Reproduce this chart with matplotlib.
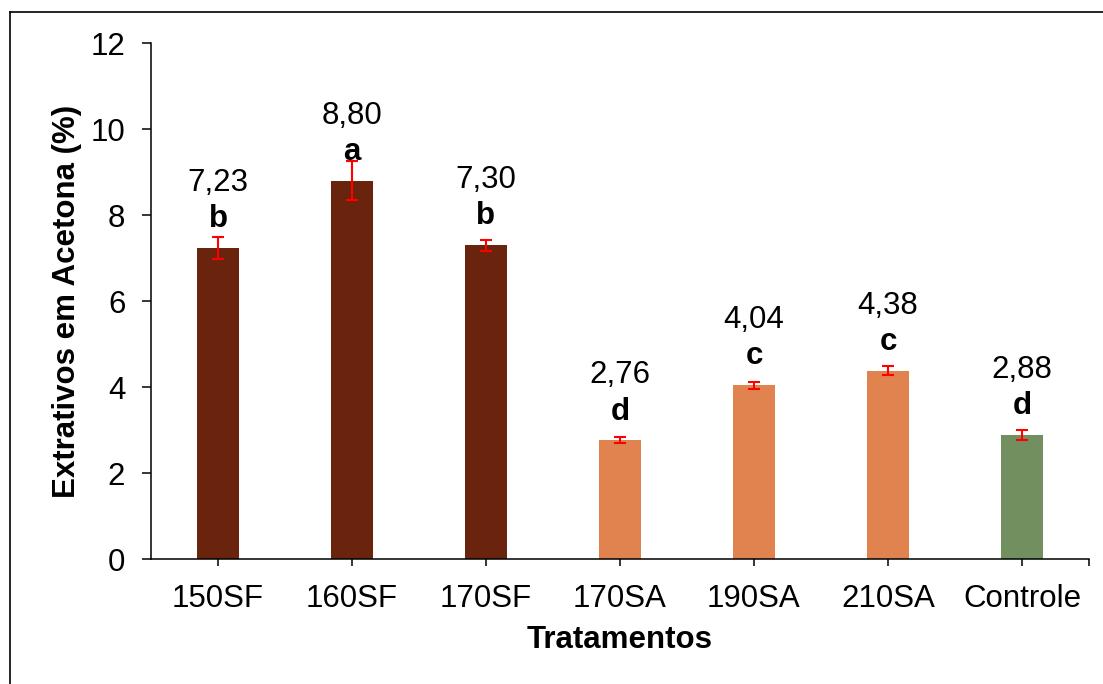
import numpy as np
import matplotlib
matplotlib.use("Agg")
import matplotlib.pyplot as plt
from matplotlib.lines import Line2D

plt.rcParams['font.family'] = ['Liberation Sans', 'DejaVu Sans']

# Data
tratamentos = ["150SF", "160SF", "170SF", "170SA", "190SA", "210SA", "Controle"]
medias = [7.23, 8.80, 7.30, 2.76, 4.04, 4.38, 2.88]
desvios = [0.26, 0.45, 0.13, 0.07, 0.08, 0.11, 0.12]
letras = ["b", "a", "b", "d", "c", "c", "d"]
cores = ["#6A230D", "#6A230D", "#6A230D", "#E0834F", "#E0834F", "#E0834F", "#728F5F"]

fs = 22.5

fig = plt.figure(figsize=(11.03, 6.84), dpi=100)
ax = fig.add_axes([0.1369, 0.1827, 0.8504, 0.7544])

x = np.arange(len(tratamentos))
ax.bar(x, medias, width=0.31, color=cores, zorder=2)
ax.errorbar(x, medias, yerr=desvios, fmt='none', ecolor='red',
            elinewidth=1.5, capsize=4.3, capthick=1.5, zorder=3)

# rotulos: valor + letra do teste
for xi, m, l in zip(x, medias, letras):
    ax.annotate(l, (xi, m), xytext=(0, 15), textcoords='offset points',
                ha='center', va='baseline', fontsize=fs, fontweight='bold')
    ax.annotate(f"{m:.2f}".replace('.', ','), (xi, m), xytext=(0, 41),
                textcoords='offset points', ha='center', va='baseline',
                fontsize=fs)

ax.set_xlim(-0.5, 6.5)
ax.set_ylim(0, 12)
ax.set_yticks(np.arange(0, 13, 2))
ax.set_xticks(x)
ax.set_xticklabels(tratamentos)
ax.set_xticks([6.5], minor=True)

for s in ['top', 'right']:
    ax.spines[s].set_visible(False)
for s in ['left', 'bottom']:
    ax.spines[s].set_linewidth(1.1)

ax.tick_params(axis='y', direction='out', length=6.5, width=1.1, pad=12, labelsize=fs)
ax.tick_params(axis='x', which='both', direction='out', length=5, width=1.1, pad=13, labelsize=fs)

ax.set_xlabel("Tratamentos", fontsize=fs, fontweight='bold', labelpad=8)
ax.set_ylabel("Extrativos em Acetona (%)", fontsize=fs, fontweight='bold', labelpad=6)

# moldura externa (so esquerda e topo visiveis)
fig.add_artist(Line2D([9.5 / 1103, 9.5 / 1103], [0, 1 - 12 / 684], transform=fig.transFigure,
                      color='black', lw=1.2))
fig.add_artist(Line2D([9.5 / 1103, 1], [1 - 12 / 684, 1 - 12 / 684], transform=fig.transFigure,
                      color='black', lw=1.2))

fig.savefig("out.png", dpi=100)
